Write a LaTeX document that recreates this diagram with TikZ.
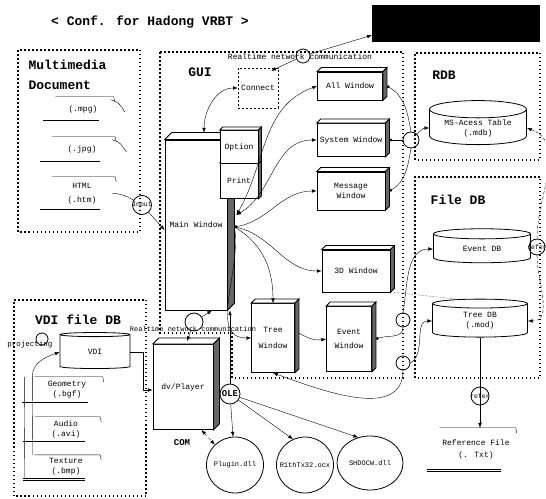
\documentclass[tikz,border=0pt]{standalone}
\usepackage{fontspec}
\setmainfont{Liberation Mono}
\usetikzlibrary{arrows.meta,positioning,shapes.geometric}

\newcommand\extrude[2]{%
  \draw[thick,fill=white] (#1.north west) -- ++(#2,#2) -- ([shift={(#2,#2)}]#1.north east) -- (#1.north east) -- cycle;
  \draw[thick,fill=black!60] (#1.north east) -- ++(#2,#2) -- ([shift={(#2,#2)}]#1.south east) -- (#1.south east) -- cycle;}
\newcommand\doclines[1]{%
  \draw (#1.north west) -- (#1.north east) -- ++(3,0) -- ++(1,-5);
  \draw[double,double distance=1.2pt,line width=0.7pt] ([xshift=-12pt]#1.south west) -- ([xshift=-12pt]#1.south east);}

\begin{document}
\begin{tikzpicture}[x=1pt,y=1pt,>=Latex,
  lbl/.style={font=\fontsize{8}{10}\selectfont},
  head/.style={font=\bfseries\fontsize{13}{15}\selectfont},
  grp/.style={draw,line width=1.5pt,dash pattern=on 1.5pt off 2.5pt},
  win/.style={draw,thick,fill=white,lbl,align=center,inner sep=1pt},
  db/.style={cylinder,shape border rotate=90,draw,thick,aspect=0.25,fill=white,lbl,align=center,inner sep=1pt},
  dll/.style={ellipse,draw,thick,inner sep=-6pt,font=\fontsize{7}{8}\selectfont},
  tag/.style={circle,draw,thick,inner sep=-4pt,minimum size=14pt,font=\fontsize{6.5}{7}\selectfont},
  doc/.style={lbl,align=center,inner sep=0pt}]
\useasboundingbox (0,0) rectangle (546,498);

\node[head] (title) at (150,476) {< Conf. for Hadong VRBT >};
\node[fill=black,minimum width=168pt,minimum height=37pt,inner sep=0pt] (ext) at (456,474.5) {};

\draw[grp] (18,266) rectangle (140,448);
\draw[grp] (160,446) -- (403,446) -- (403,120) -- (232,120) -- (232,165) -- (160,165) -- cycle;
\draw[grp] (415,338) rectangle (540,445);
\draw[grp] (415,120) rectangle (540,321);
\draw[grp] (14,2) rectangle (146,198);

\node[head,anchor=west] (mmtitle) at (25,433) {Multimedia};
\node[head,anchor=west] (mmtitle2) at (25,413) {Document};
\node[head] (guititle) at (200,426) {GUI};
\node[head] (rdbtitle) at (444,423) {RDB};
\node[head] (filetitle) at (458,298) {File DB};
\node[head] (vdititle) at (78,178) {VDI file DB};

\node[win,minimum width=62pt,minimum height=170pt] (main) at (196,273) {Main Window};
\extrude{main}{7}
\node[win,minimum width=38pt,minimum height=35pt] (print) at (239,317) {Print};
\extrude{print}{3}
\node[win,minimum width=38pt,minimum height=33pt] (option) at (239,351) {Option};
\extrude{option}{3}
\node[win,thin,dash pattern=on 2pt off 2pt,minimum width=40pt,minimum height=40pt] (connect) at (258,410) {Connect};
\node[win,minimum width=65pt,minimum height=28pt] (allw) at (350,412) {All Window};
\extrude{allw}{4}
\node[win,minimum width=68pt,minimum height=33pt] (sysw) at (351,358) {System Window};
\extrude{sysw}{4}
\node[win,minimum width=68pt,minimum height=38pt] (mesw) at (351,307) {Message\\Window};
\extrude{mesw}{4}
\node[win,minimum width=68pt,minimum height=42pt] (d3w) at (356,227) {3D Window};
\extrude{d3w}{4}
\node[win,minimum width=43pt,minimum height=69pt] (treew) at (273,160) {Tree\\[6pt]Window};
\extrude{treew}{4}
\node[win,minimum width=45pt,minimum height=65pt] (evw) at (349,159) {Event\\[4pt]Window};
\extrude{evw}{4}
\node[win,minimum width=60pt,minimum height=85pt] (dvp) at (183,111) {dv/Player};
\extrude{dvp}{6}

\node[db,minimum width=97pt,minimum height=38pt] (msdb) at (478,370) {MS-Acess Table\\(.mdb)};
\node[db,minimum width=97pt,minimum height=34pt] (evdb) at (482,249) {Event DB};
\node[db,minimum width=95pt,minimum height=38pt] (trdb) at (480,177) {Tree DB\\(.mod)};
\node[db,minimum width=70pt,minimum height=36pt] (vdi) at (95,146) {VDI};

\node[dll,minimum width=57pt,minimum height=56pt] (plugin) at (235,33) {Plugin.dll};
\node[dll,minimum width=57pt,minimum height=56pt] (ocx) at (305,33) {R1thTx32.ocx};
\node[dll,minimum width=66pt,minimum height=54pt] (shdoc) at (370,35) {SHDOCW.dll};

\node[doc,minimum width=55pt,minimum height=24pt] (mpg) at (83,389) {(.mpg)};
\doclines{mpg}
\node[doc,minimum width=60pt,minimum height=25pt] (jpg) at (82,348.5) {(.jpg)};
\doclines{jpg}
\node[doc,minimum width=60pt,minimum height=33pt] (html) at (82,304.5) {HTML\\[4pt](.htm)};
\doclines{html}
\node[doc,minimum width=65pt,minimum height=26pt] (geo) at (67,108) {Geometry\\(.bgf)};
\doclines{geo}
\node[doc,minimum width=62pt,minimum height=25pt] (audio) at (66,68.5) {Audio\\(.avi)};
\doclines{audio}
\node[doc,minimum width=62pt,minimum height=24pt] (tex) at (66,31) {Texture\\(.bmp)};
\doclines{tex}
\node[doc,minimum width=73pt,minimum height=42pt] (reffile) at (476,49) {Reference File\\[2pt](. Txt)};
\doclines{reffile}

\node[tag] (netc) at (303,442) {};
\node[tag,minimum size=16pt] (rdbc) at (411,358) {};
\node[tag] (gc1) at (403,178) {};
\node[tag] (gc2) at (403,135) {};
\node[tag,minimum size=19pt] (input) at (142,293) {Input};
\node[tag,minimum size=12pt] (proj) at (42,159) {};
\node[font=\fontsize{7.5}{8}\selectfont] (projtxt) at (30,153) {projecting};
\node[tag,minimum size=18pt] (netb) at (194,176) {};
\node[tag,minimum size=20pt,font=\bfseries\fontsize{9}{10}\selectfont] (ole) at (230,104) {OLE};
\node[font=\bfseries\fontsize{9}{10}\selectfont] (com) at (182,55) {COM};
\node[tag,minimum size=16pt] (refer1) at (537,251) {refer};
\node[tag,minimum size=18pt] (refer2) at (480,102) {refer};

\node[lbl] (rtop) at (300,441) {Realtime network communication};
\node[font=\fontsize{7}{8}\selectfont] (rbot) at (193,169) {Realtime network communication};

\draw[->] (netc) -- ([yshift=7pt]ext.south west);
\draw[->] (netc) -- ([xshift=-7pt,yshift=-3pt]connect.north east);
\draw[<->] ([xshift=8pt,yshift=7pt]main.north) to[out=90,in=180] (connect.west);

\coordinate (mwa) at ([xshift=9pt,yshift=10pt]main.east);
\coordinate (mwb) at ([xshift=7pt,yshift=-2pt]main.east);
\draw[<->] (mwa) to[out=60,in=200] (allw.west);
\draw[<->] (mwa) to[out=30,in=180] (sysw.west);
\draw[{Circle[length=3pt]}->] (mwb) to[out=10,in=180] (mesw.west);
\draw[->] (mwb) to[out=-10,in=180] (d3w.west);
\draw[->] (mwb) to[out=-30,in=90] (treew.north);
\draw[->] (mwb) to[out=-80,in=180] (treew.west);

\draw[->] (ole.north) -- (ole.north |- main.south);
\draw[->] (ole) -- (plugin);
\draw[->,thin] (ole) -- (ocx.115);
\draw[->,thin] (ole) -- (shdoc.115);
\draw[<->,dashed] ([xshift=-12pt]dvp.south east) -- (plugin.135);
\draw[->] (netb) -- ([xshift=4pt,yshift=3pt]dvp.north);
\draw[->] (netb) -- ([xshift=16pt]main.south);

\draw[->] ([xshift=4pt,yshift=5pt]treew.east) to[out=-30,in=190] (evw.west);
\draw[{Circle[length=3pt]}-] ([xshift=4pt]evw.east) to[out=20,in=-90] (gc1.south);
\draw[->] (gc1.north) to[out=80,in=180] (evdb.west);
\draw[->] (gc2.east) to[out=30,in=180] (trdb.west);
\draw[->] (gc2.south) to[out=-90,in=-20] (treew.south);
\draw[thin,densely dotted] ([xshift=4pt]d3w.south east) -- (trdb.north west);

\draw[{Circle[length=3pt]}-] ([xshift=4pt]sysw.east) -- (rdbc);
\draw[->] (rdbc) to[out=45,in=180] (msdb.west);
\draw[{Circle[length=3pt]}-] ([xshift=4pt]allw.east) to[out=-30,in=100] (rdbc.north);
\draw[{Circle[length=3pt]}-] ([xshift=4pt]mesw.east) to[out=30,in=-100] (rdbc.south);

\draw (evdb.east) -- (refer1);
\draw[->,densely dashed] (refer1.north) to[out=90,in=-20] (msdb.east);
\draw[->,densely dashed] (refer1.south) to[out=-90,in=0] (trdb.east);
\draw[->] (trdb.south) -- (trdb.south |- reffile.north);

\draw ([yshift=-3pt]mpg.north east) to[out=-10,in=120] ++(14,-12);
\draw ([yshift=-3pt]jpg.north east) to[out=-10,in=120] ++(14,-12);
\draw (html.east) to[out=0,in=150] (input);
\draw[->] (input) -- ([yshift=-5pt]main.west);

\draw[->] (vdi.east) -- ++(13,0) |- ([yshift=-3pt]dvp.west);
\draw ([xshift=-10pt]geo.north west) -- ([xshift=-10pt]tex.south west);
\draw[->] ([xshift=-2pt]tex.north west) -- ([xshift=-2pt]geo.north west) to[out=90,in=200] (vdi.west);
\end{tikzpicture}
\end{document}
